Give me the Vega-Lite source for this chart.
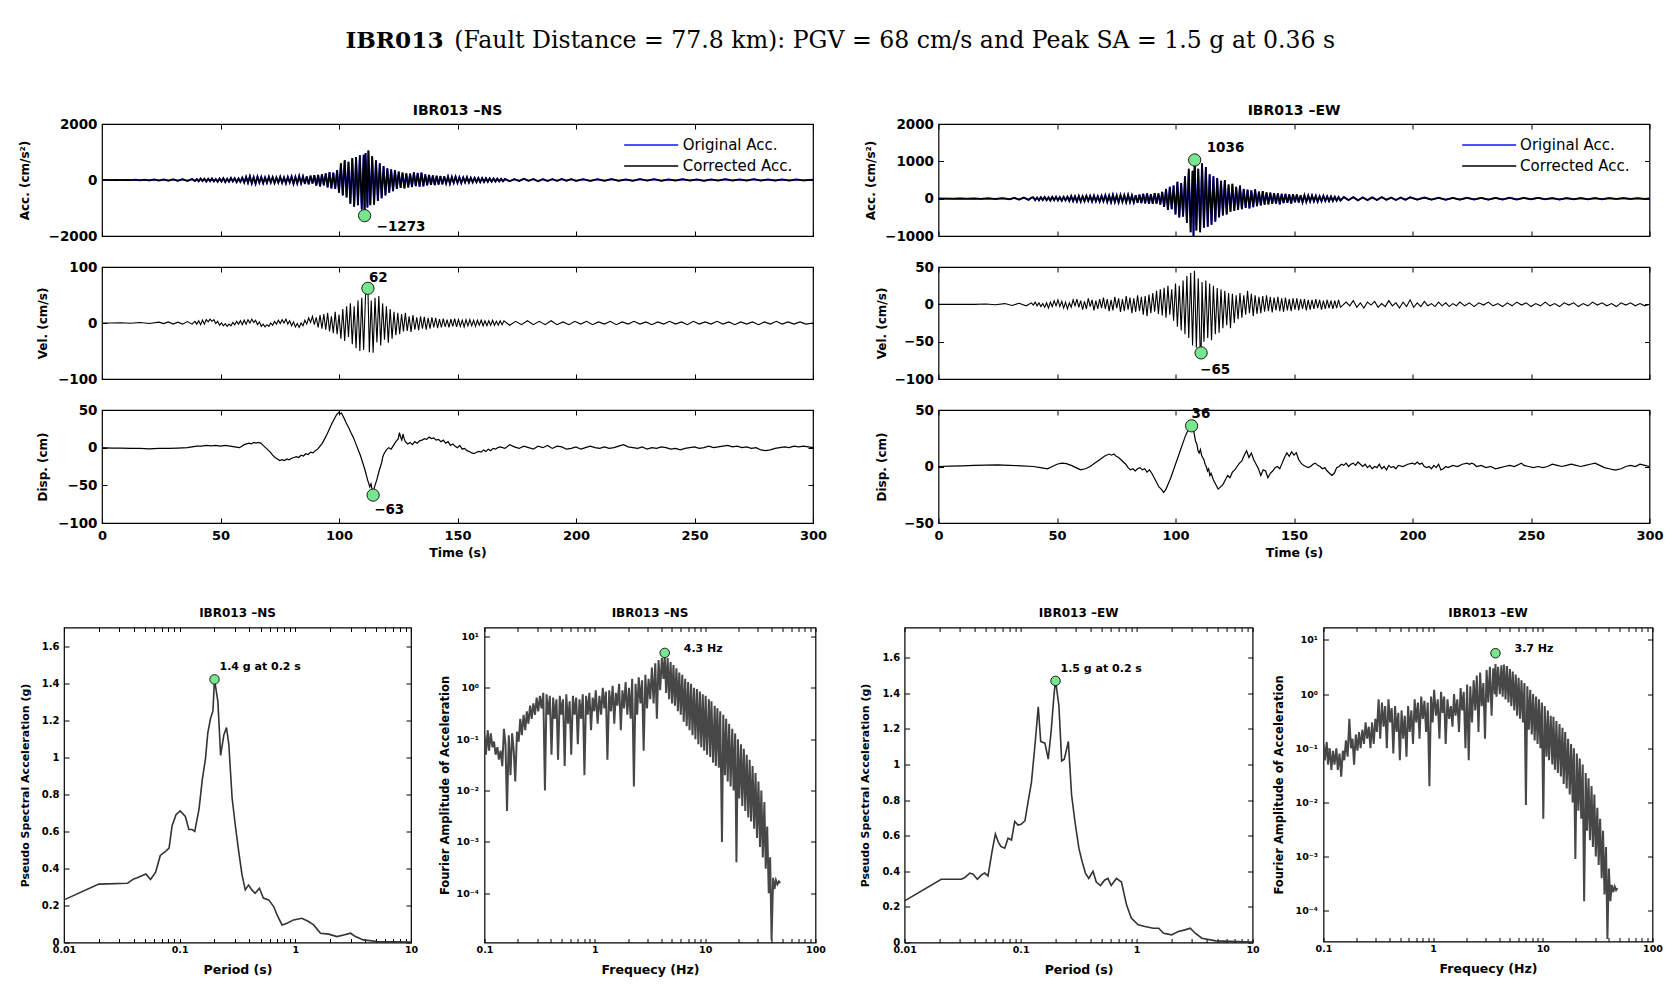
{
"$schema":"https://vega.github.io/schema/vega-lite/v6.json",
"background":"white",
"padding":{"left":17,"top":28,"right":5,"bottom":5},
"title":{"text":"(Fault Distance = 77.8 km): PGV = 68 cm/s and Peak SA = 1.5 g at 0.36 s","anchor":"start","frame":"bounds","dx":436.9,"offset":-23.6,"font":"DejaVu Serif","fontSize":23.6,"fontWeight":"normal","color":"#000"},
"datasets":{
"nsAcc":[{"t":0,"v":0},{"t":2,"v":3},{"t":4,"v":-4},{"t":6,"v":5},{"t":8,"v":-5},{"t":10,"v":6},{"t":12,"v":-6},{"t":14,"v":8},{"t":16,"v":-8},{"t":18,"v":10},{"t":20,"v":-12},{"t":22,"v":15},{"t":24,"v":-15},{"t":26,"v":18},{"t":28,"v":-20},{"t":30,"v":22},{"t":32,"v":-25},{"t":34,"v":25},{"t":36,"v":-28},{"t":38,"v":30},{"t":39.2,"v":-35},{"t":40,"v":30},{"t":40.8,"v":-45},{"t":41.6,"v":50},{"t":42.4,"v":-35},{"t":43.2,"v":40},{"t":44,"v":-55},{"t":44.8,"v":45},{"t":45.6,"v":-40},{"t":46.4,"v":55},{"t":47.2,"v":-50},{"t":48,"v":35},{"t":48.8,"v":-60},{"t":49.6,"v":50},{"t":50.4,"v":-55},{"t":51.2,"v":65},{"t":52,"v":-70},{"t":52.8,"v":45},{"t":53.6,"v":-60},{"t":54.4,"v":70},{"t":55.2,"v":-50},{"t":56,"v":60},{"t":56.8,"v":-75},{"t":57.6,"v":55},{"t":58.4,"v":-65},{"t":59.2,"v":80},{"t":60,"v":-90},{"t":60.8,"v":110},{"t":61.6,"v":-100},{"t":62.4,"v":130},{"t":63.2,"v":-120},{"t":64,"v":100},{"t":64.8,"v":-130},{"t":65.6,"v":120},{"t":66.4,"v":-95},{"t":67.2,"v":105},{"t":68,"v":-115},{"t":68.8,"v":90},{"t":69.6,"v":-100},{"t":70.4,"v":115},{"t":71.2,"v":-90},{"t":72,"v":100},{"t":72.8,"v":-110},{"t":73.6,"v":85},{"t":74.4,"v":-95},{"t":75.2,"v":110},{"t":76,"v":-100},{"t":76.8,"v":90},{"t":77.6,"v":-120},{"t":78.4,"v":105},{"t":79.2,"v":-90},{"t":80,"v":120},{"t":80.8,"v":-135},{"t":81.6,"v":110},{"t":82.4,"v":-125},{"t":83.2,"v":140},{"t":84,"v":-115},{"t":84.8,"v":125},{"t":85.6,"v":-140},{"t":86.4,"v":130},{"t":87.2,"v":-150},{"t":88,"v":150},{"t":88.8,"v":-130},{"t":89.6,"v":170},{"t":90.4,"v":-200},{"t":91.2,"v":180},{"t":92,"v":-230},{"t":92.8,"v":210},{"t":93.6,"v":-190},{"t":94.4,"v":240},{"t":95.2,"v":-260},{"t":96,"v":280},{"t":96.8,"v":-300},{"t":97.6,"v":260},{"t":98.4,"v":-320},{"t":99.2,"v":350},{"t":100,"v":-450},{"t":100.8,"v":600},{"t":101.6,"v":-550},{"t":102.4,"v":700},{"t":103.2,"v":-620},{"t":104,"v":650},{"t":104.8,"v":-850},{"t":105.6,"v":780},{"t":106.4,"v":-950},{"t":107.2,"v":820},{"t":108,"v":-900},{"t":108.8,"v":880},{"t":109.6,"v":-1050},{"t":110.4,"v":900},{"t":110.8,"v":-1273},{"t":111.2,"v":960},{"t":112,"v":-980},{"t":112.4,"v":1050},{"t":113.2,"v":-900},{"t":114,"v":850},{"t":114.8,"v":-880},{"t":115.6,"v":700},{"t":116.4,"v":-750},{"t":117.2,"v":600},{"t":118,"v":-650},{"t":118.8,"v":500},{"t":119.6,"v":-550},{"t":120.4,"v":420},{"t":121.2,"v":-450},{"t":122,"v":380},{"t":122.8,"v":-400},{"t":123.6,"v":350},{"t":124.4,"v":-320},{"t":125.2,"v":300},{"t":126,"v":-280},{"t":126.8,"v":260},{"t":127.6,"v":-300},{"t":128.4,"v":240},{"t":129.2,"v":-260},{"t":130,"v":230},{"t":130.8,"v":-250},{"t":131.6,"v":270},{"t":132.4,"v":-220},{"t":133.2,"v":250},{"t":134,"v":-240},{"t":134.8,"v":260},{"t":135.6,"v":-230},{"t":136.4,"v":200},{"t":137.2,"v":-190},{"t":138,"v":180},{"t":138.8,"v":-170},{"t":139.6,"v":160},{"t":140.4,"v":-180},{"t":141.2,"v":150},{"t":142,"v":-160},{"t":142.8,"v":140},{"t":143.6,"v":-150},{"t":144.4,"v":130},{"t":145.2,"v":-120},{"t":146,"v":120},{"t":146.8,"v":-130},{"t":147.6,"v":110},{"t":148.4,"v":-100},{"t":149.2,"v":115},{"t":150,"v":-105},{"t":150.8,"v":95},{"t":151.6,"v":-110},{"t":152.4,"v":90},{"t":153.2,"v":-85},{"t":154,"v":100},{"t":154.8,"v":-90},{"t":155.6,"v":80},{"t":156.4,"v":-85},{"t":157.2,"v":75},{"t":158,"v":-80},{"t":158.8,"v":70},{"t":159.6,"v":-75},{"t":160.4,"v":65},{"t":161.2,"v":-70},{"t":162,"v":60},{"t":162.8,"v":-65},{"t":163.6,"v":55},{"t":164.4,"v":-60},{"t":165.2,"v":50},{"t":166,"v":-55},{"t":166.8,"v":45},{"t":167.6,"v":-50},{"t":168.4,"v":40},{"t":169.2,"v":-45},{"t":170,"v":35},{"t":172,"v":-40},{"t":174,"v":30},{"t":176,"v":-35},{"t":178,"v":40},{"t":180,"v":-30},{"t":182,"v":35},{"t":184,"v":-40},{"t":186,"v":30},{"t":188,"v":-35},{"t":190,"v":30},{"t":192,"v":-30},{"t":194,"v":35},{"t":196,"v":-25},{"t":198,"v":30},{"t":200,"v":-30},{"t":203,"v":25},{"t":206,"v":-30},{"t":209,"v":25},{"t":212,"v":-25},{"t":215,"v":30},{"t":218,"v":-25},{"t":221,"v":20},{"t":224,"v":-25},{"t":227,"v":30},{"t":230,"v":-20},{"t":233,"v":25},{"t":236,"v":-25},{"t":239,"v":20},{"t":242,"v":-20},{"t":245,"v":25},{"t":248,"v":-20},{"t":251,"v":20},{"t":254,"v":-25},{"t":257,"v":20},{"t":260,"v":-20},{"t":263,"v":25},{"t":266,"v":-20},{"t":269,"v":20},{"t":272,"v":-20},{"t":275,"v":25},{"t":278,"v":-20},{"t":281,"v":20},{"t":284,"v":-15},{"t":287,"v":20},{"t":290,"v":-20},{"t":293,"v":15},{"t":296,"v":-15},{"t":300,"v":10}],
"ewAcc":[{"t":0,"v":0},{"t":3,"v":2},{"t":6,"v":-3},{"t":9,"v":3},{"t":12,"v":-4},{"t":15,"v":5},{"t":18,"v":-6},{"t":21,"v":8},{"t":24,"v":-10},{"t":27,"v":12},{"t":30,"v":-15},{"t":32,"v":20},{"t":34,"v":-25},{"t":36,"v":30},{"t":38,"v":-30},{"t":39.2,"v":25},{"t":40,"v":35},{"t":40.8,"v":-40},{"t":41.6,"v":30},{"t":42.4,"v":-45},{"t":43.2,"v":40},{"t":44,"v":-35},{"t":44.8,"v":45},{"t":45.6,"v":-40},{"t":46.4,"v":35},{"t":47.2,"v":-50},{"t":48,"v":45},{"t":48.8,"v":-40},{"t":49.6,"v":50},{"t":50.4,"v":-45},{"t":51.2,"v":40},{"t":52,"v":-55},{"t":52.8,"v":50},{"t":53.6,"v":-45},{"t":54.4,"v":55},{"t":55.2,"v":-60},{"t":56,"v":70},{"t":56.8,"v":-65},{"t":57.6,"v":60},{"t":58.4,"v":-75},{"t":59.2,"v":70},{"t":60,"v":-80},{"t":60.8,"v":65},{"t":61.6,"v":-70},{"t":62.4,"v":75},{"t":63.2,"v":-60},{"t":64,"v":70},{"t":64.8,"v":-75},{"t":65.6,"v":80},{"t":66.4,"v":-70},{"t":67.2,"v":65},{"t":68,"v":-80},{"t":68.8,"v":75},{"t":69.6,"v":-70},{"t":70.4,"v":90},{"t":71.2,"v":-85},{"t":72,"v":80},{"t":72.8,"v":-95},{"t":73.6,"v":100},{"t":74.4,"v":-90},{"t":75.2,"v":85},{"t":76,"v":-100},{"t":76.8,"v":95},{"t":77.6,"v":-85},{"t":78.4,"v":90},{"t":79.2,"v":-95},{"t":80,"v":100},{"t":80.8,"v":-90},{"t":81.6,"v":85},{"t":82.4,"v":-100},{"t":83.2,"v":95},{"t":84,"v":-110},{"t":84.8,"v":105},{"t":85.6,"v":-120},{"t":86.4,"v":130},{"t":87.2,"v":-125},{"t":88,"v":140},{"t":88.8,"v":-135},{"t":89.6,"v":120},{"t":90.4,"v":-140},{"t":91.2,"v":150},{"t":92,"v":-130},{"t":92.8,"v":140},{"t":93.6,"v":-160},{"t":94.4,"v":180},{"t":95.2,"v":-220},{"t":96,"v":260},{"t":96.8,"v":-300},{"t":97.6,"v":320},{"t":98.4,"v":-280},{"t":99.2,"v":350},{"t":100,"v":-420},{"t":100.8,"v":450},{"t":101.6,"v":-500},{"t":102.4,"v":420},{"t":103.2,"v":-480},{"t":104,"v":600},{"t":104.8,"v":-650},{"t":105.6,"v":800},{"t":106.4,"v":-900},{"t":107.2,"v":750},{"t":107.6,"v":-1000},{"t":108.1,"v":1036},{"t":108.8,"v":-850},{"t":109.6,"v":800},{"t":110.4,"v":-900},{"t":111.2,"v":950},{"t":112,"v":-780},{"t":112.8,"v":850},{"t":113.6,"v":-750},{"t":114.4,"v":650},{"t":115.2,"v":-700},{"t":116,"v":600},{"t":116.8,"v":-620},{"t":117.6,"v":550},{"t":118.4,"v":-500},{"t":119.2,"v":480},{"t":120,"v":-450},{"t":120.8,"v":500},{"t":121.6,"v":-420},{"t":122.4,"v":380},{"t":123.2,"v":-350},{"t":124,"v":400},{"t":124.8,"v":-330},{"t":125.6,"v":320},{"t":126.4,"v":-300},{"t":127.2,"v":350},{"t":128,"v":-280},{"t":128.8,"v":260},{"t":129.6,"v":-250},{"t":130.4,"v":240},{"t":131.2,"v":-260},{"t":132,"v":220},{"t":132.8,"v":-230},{"t":133.6,"v":250},{"t":134.4,"v":-200},{"t":135.2,"v":190},{"t":136,"v":-180},{"t":136.8,"v":200},{"t":137.6,"v":-160},{"t":138.4,"v":170},{"t":139.2,"v":-150},{"t":140,"v":160},{"t":140.8,"v":-140},{"t":141.6,"v":150},{"t":142.4,"v":-130},{"t":143.2,"v":140},{"t":144,"v":-150},{"t":144.8,"v":130},{"t":145.6,"v":-120},{"t":146.4,"v":125},{"t":147.2,"v":-110},{"t":148,"v":115},{"t":148.8,"v":-130},{"t":149.6,"v":120},{"t":150.4,"v":-100},{"t":151.2,"v":110},{"t":152,"v":-105},{"t":152.8,"v":95},{"t":153.6,"v":-100},{"t":154.4,"v":90},{"t":155.2,"v":-85},{"t":156,"v":80},{"t":156.8,"v":-75},{"t":157.6,"v":85},{"t":158.4,"v":-70},{"t":159.2,"v":75},{"t":160,"v":-80},{"t":160.8,"v":65},{"t":161.6,"v":-70},{"t":162.4,"v":75},{"t":163.2,"v":-60},{"t":164,"v":60},{"t":164.8,"v":-65},{"t":165.6,"v":55},{"t":166.4,"v":-60},{"t":167.2,"v":50},{"t":168,"v":-55},{"t":168.8,"v":45},{"t":169.6,"v":-50},{"t":171,"v":45},{"t":173,"v":-40},{"t":175,"v":40},{"t":177,"v":-45},{"t":179,"v":35},{"t":181,"v":-40},{"t":183,"v":35},{"t":185,"v":-35},{"t":187,"v":40},{"t":189,"v":-30},{"t":191,"v":30},{"t":193,"v":-35},{"t":195,"v":30},{"t":197,"v":-30},{"t":199,"v":35},{"t":202,"v":-25},{"t":205,"v":30},{"t":208,"v":-25},{"t":211,"v":25},{"t":214,"v":-30},{"t":217,"v":20},{"t":220,"v":-25},{"t":223,"v":25},{"t":226,"v":-20},{"t":229,"v":20},{"t":232,"v":-25},{"t":235,"v":20},{"t":238,"v":-20},{"t":241,"v":25},{"t":244,"v":-20},{"t":247,"v":20},{"t":250,"v":-15},{"t":253,"v":20},{"t":256,"v":-15},{"t":259,"v":15},{"t":262,"v":-20},{"t":265,"v":15},{"t":268,"v":-15},{"t":271,"v":15},{"t":274,"v":-15},{"t":277,"v":15},{"t":280,"v":-15},{"t":283,"v":15},{"t":286,"v":-10},{"t":289,"v":15},{"t":292,"v":-10},{"t":295,"v":10},{"t":298,"v":-10},{"t":300,"v":5}],
"nsVel":[{"t":0,"v":0},{"t":4,"v":0},{"t":8,"v":0.5},{"t":12,"v":-0.5},{"t":16,"v":1},{"t":20,"v":-1},{"t":24,"v":1.5},{"t":26,"v":-1},{"t":28,"v":2},{"t":30,"v":-2},{"t":32,"v":1.5},{"t":34,"v":-2},{"t":36,"v":2.5},{"t":38,"v":-2},{"t":39.2,"v":3},{"t":40,"v":-2},{"t":40.8,"v":4},{"t":41.6,"v":-3},{"t":42.4,"v":5},{"t":43.2,"v":-2},{"t":44,"v":6},{"t":44.8,"v":2},{"t":45.6,"v":7},{"t":46.4,"v":3},{"t":47.2,"v":6},{"t":48,"v":-1},{"t":48.8,"v":3},{"t":49.6,"v":-4},{"t":50.4,"v":0},{"t":51.2,"v":-5},{"t":52,"v":-1},{"t":52.8,"v":-6},{"t":53.6,"v":-2},{"t":54.4,"v":-5},{"t":55.2,"v":1},{"t":56,"v":-3},{"t":56.8,"v":3},{"t":57.6,"v":-2},{"t":58.4,"v":4},{"t":59.2,"v":-3},{"t":60,"v":5},{"t":60.8,"v":-2},{"t":61.6,"v":6},{"t":62.4,"v":0},{"t":63.2,"v":7},{"t":64,"v":1},{"t":64.8,"v":5},{"t":65.6,"v":-3},{"t":66.4,"v":2},{"t":67.2,"v":-6},{"t":68,"v":-2},{"t":68.8,"v":-7},{"t":69.6,"v":-3},{"t":70.4,"v":-6},{"t":71.2,"v":0},{"t":72,"v":-4},{"t":72.8,"v":3},{"t":73.6,"v":-2},{"t":74.4,"v":5},{"t":75.2,"v":-1},{"t":76,"v":6},{"t":76.8,"v":0},{"t":77.6,"v":7},{"t":78.4,"v":-2},{"t":79.2,"v":4},{"t":80,"v":-5},{"t":80.8,"v":2},{"t":81.6,"v":-7},{"t":82.4,"v":-1},{"t":83.2,"v":-8},{"t":84,"v":0},{"t":84.8,"v":-5},{"t":85.6,"v":5},{"t":86.4,"v":-2},{"t":87.2,"v":9},{"t":88,"v":1},{"t":88.8,"v":12},{"t":89.6,"v":-3},{"t":90.4,"v":10},{"t":91.2,"v":-8},{"t":92,"v":14},{"t":92.8,"v":-10},{"t":93.6,"v":16},{"t":94.4,"v":-12},{"t":95.2,"v":18},{"t":96,"v":-15},{"t":96.8,"v":12},{"t":97.6,"v":-18},{"t":98.4,"v":20},{"t":99.2,"v":-20},{"t":100,"v":15},{"t":100.8,"v":-28},{"t":101.6,"v":25},{"t":102.4,"v":-32},{"t":103.2,"v":30},{"t":104,"v":-25},{"t":104.8,"v":35},{"t":105.6,"v":-38},{"t":106.4,"v":30},{"t":107.2,"v":-45},{"t":108,"v":40},{"t":108.8,"v":-50},{"t":109.6,"v":45},{"t":110.4,"v":-48},{"t":111.2,"v":50},{"t":112.2,"v":62},{"t":112.8,"v":-52},{"t":113.6,"v":40},{"t":114.4,"v":-53},{"t":115.2,"v":45},{"t":116,"v":-35},{"t":116.8,"v":48},{"t":117.6,"v":-40},{"t":118.4,"v":35},{"t":119.2,"v":-30},{"t":120,"v":30},{"t":120.8,"v":-35},{"t":121.6,"v":25},{"t":122.4,"v":-28},{"t":123.2,"v":20},{"t":124,"v":-22},{"t":124.8,"v":18},{"t":125.6,"v":-20},{"t":126.4,"v":16},{"t":127.2,"v":-15},{"t":128,"v":18},{"t":128.8,"v":-14},{"t":129.6,"v":12},{"t":130.4,"v":-16},{"t":131.2,"v":14},{"t":132,"v":-12},{"t":132.8,"v":10},{"t":133.6,"v":-13},{"t":134.4,"v":12},{"t":135.2,"v":-10},{"t":136,"v":11},{"t":136.8,"v":-12},{"t":137.6,"v":9},{"t":138.4,"v":-10},{"t":139.2,"v":10},{"t":140,"v":-8},{"t":140.8,"v":9},{"t":141.6,"v":-9},{"t":142.4,"v":7},{"t":143.2,"v":-8},{"t":144,"v":8},{"t":144.8,"v":-7},{"t":145.6,"v":6},{"t":146.4,"v":-8},{"t":147.2,"v":7},{"t":148,"v":-6},{"t":148.8,"v":8},{"t":149.6,"v":-7},{"t":150.4,"v":6},{"t":151.2,"v":-6},{"t":152,"v":5},{"t":152.8,"v":-7},{"t":153.6,"v":6},{"t":154.4,"v":-5},{"t":155.2,"v":6},{"t":156,"v":-5},{"t":156.8,"v":5},{"t":157.6,"v":-6},{"t":158.4,"v":5},{"t":159.2,"v":-4},{"t":160,"v":5},{"t":160.8,"v":-5},{"t":161.6,"v":4},{"t":162.4,"v":-5},{"t":163.2,"v":4},{"t":164,"v":-4},{"t":164.8,"v":5},{"t":165.6,"v":-4},{"t":166.4,"v":3},{"t":167.2,"v":-4},{"t":168,"v":4},{"t":168.8,"v":-3},{"t":169.6,"v":4},{"t":172,"v":-4},{"t":174.5,"v":3},{"t":177,"v":-3},{"t":179.5,"v":4},{"t":182,"v":-3},{"t":184.5,"v":3},{"t":187,"v":-3},{"t":189.5,"v":4},{"t":192,"v":-3},{"t":194.5,"v":2},{"t":197,"v":-3},{"t":199.5,"v":3},{"t":202,"v":-2},{"t":204.5,"v":3},{"t":207,"v":-3},{"t":209.5,"v":2},{"t":212,"v":-2},{"t":214.5,"v":3},{"t":217,"v":-3},{"t":219.5,"v":2},{"t":222,"v":-2},{"t":224.5,"v":3},{"t":227,"v":-2},{"t":229.5,"v":2},{"t":232,"v":-3},{"t":234.5,"v":2},{"t":237,"v":-2},{"t":239.5,"v":3},{"t":242,"v":-2},{"t":244.5,"v":2},{"t":247,"v":-3},{"t":249.5,"v":3},{"t":252,"v":-2},{"t":254.5,"v":2},{"t":257,"v":-2},{"t":259.5,"v":3},{"t":262,"v":-2},{"t":264.5,"v":2},{"t":267,"v":-3},{"t":269.5,"v":2},{"t":272,"v":-2},{"t":274.5,"v":2},{"t":277,"v":-3},{"t":279.5,"v":2},{"t":282,"v":-2},{"t":284.5,"v":3},{"t":287,"v":-2},{"t":289.5,"v":2},{"t":292,"v":-2},{"t":294.5,"v":2},{"t":297,"v":-2},{"t":300,"v":0}],
"ewVel":[{"t":0,"v":0},{"t":5,"v":0},{"t":10,"v":0},{"t":15,"v":0},{"t":20,"v":0.5},{"t":24,"v":-0.5},{"t":28,"v":1},{"t":31,"v":-1.5},{"t":34,"v":1.5},{"t":37,"v":-2},{"t":39.2,"v":2},{"t":40,"v":-1},{"t":40.8,"v":3},{"t":41.6,"v":-2},{"t":42.4,"v":2},{"t":43.2,"v":-3},{"t":44,"v":1},{"t":44.8,"v":-4},{"t":45.6,"v":2},{"t":46.4,"v":-5},{"t":47.2,"v":3},{"t":48,"v":-3},{"t":48.8,"v":5},{"t":49.6,"v":-2},{"t":50.4,"v":6},{"t":51.2,"v":-3},{"t":52,"v":4},{"t":52.8,"v":-5},{"t":53.6,"v":3},{"t":54.4,"v":-6},{"t":55.2,"v":2},{"t":56,"v":-4},{"t":56.8,"v":6},{"t":57.6,"v":-2},{"t":58.4,"v":7},{"t":59.2,"v":-4},{"t":60,"v":5},{"t":60.8,"v":-7},{"t":61.6,"v":4},{"t":62.4,"v":-6},{"t":63.2,"v":8},{"t":64,"v":-3},{"t":64.8,"v":6},{"t":65.6,"v":-8},{"t":66.4,"v":5},{"t":67.2,"v":-6},{"t":68,"v":7},{"t":68.8,"v":-5},{"t":69.6,"v":9},{"t":70.4,"v":-6},{"t":71.2,"v":7},{"t":72,"v":-9},{"t":72.8,"v":6},{"t":73.6,"v":-8},{"t":74.4,"v":10},{"t":75.2,"v":-5},{"t":76,"v":8},{"t":76.8,"v":-10},{"t":77.6,"v":7},{"t":78.4,"v":-9},{"t":79.2,"v":11},{"t":80,"v":-7},{"t":80.8,"v":9},{"t":81.6,"v":-12},{"t":82.4,"v":8},{"t":83.2,"v":-10},{"t":84,"v":12},{"t":84.8,"v":-9},{"t":85.6,"v":10},{"t":86.4,"v":-14},{"t":87.2,"v":11},{"t":88,"v":-16},{"t":88.8,"v":13},{"t":89.6,"v":-12},{"t":90.4,"v":15},{"t":91.2,"v":-10},{"t":92,"v":18},{"t":92.8,"v":-13},{"t":93.6,"v":20},{"t":94.4,"v":-15},{"t":95.2,"v":22},{"t":96,"v":-18},{"t":96.8,"v":25},{"t":97.6,"v":-14},{"t":98.4,"v":20},{"t":99.2,"v":-22},{"t":100,"v":28},{"t":100.8,"v":-30},{"t":101.6,"v":25},{"t":102.4,"v":-35},{"t":103.2,"v":32},{"t":104,"v":-40},{"t":104.8,"v":38},{"t":105.6,"v":-45},{"t":106.4,"v":42},{"t":107.2,"v":-55},{"t":108,"v":45},{"t":108.8,"v":-58},{"t":109.6,"v":35},{"t":110.4,"v":-60},{"t":110.8,"v":-65},{"t":111.2,"v":30},{"t":112,"v":-50},{"t":112.8,"v":32},{"t":113.6,"v":-45},{"t":114.4,"v":28},{"t":115.2,"v":-48},{"t":116,"v":25},{"t":116.8,"v":-40},{"t":117.6,"v":22},{"t":118.4,"v":-38},{"t":119.2,"v":20},{"t":120,"v":-32},{"t":120.8,"v":18},{"t":121.6,"v":-28},{"t":122.4,"v":15},{"t":123.2,"v":-32},{"t":124,"v":14},{"t":124.8,"v":-25},{"t":125.6,"v":12},{"t":126.4,"v":-20},{"t":127.2,"v":15},{"t":128,"v":-18},{"t":128.8,"v":12},{"t":129.6,"v":-14},{"t":130.4,"v":18},{"t":131.2,"v":-12},{"t":132,"v":14},{"t":132.8,"v":-16},{"t":133.6,"v":12},{"t":134.4,"v":-13},{"t":135.2,"v":10},{"t":136,"v":-12},{"t":136.8,"v":11},{"t":137.6,"v":-10},{"t":138.4,"v":12},{"t":139.2,"v":-9},{"t":140,"v":10},{"t":140.8,"v":-11},{"t":141.6,"v":9},{"t":142.4,"v":-8},{"t":143.2,"v":10},{"t":144,"v":-9},{"t":144.8,"v":8},{"t":145.6,"v":-10},{"t":146.4,"v":9},{"t":147.2,"v":-8},{"t":148,"v":7},{"t":148.8,"v":-9},{"t":149.6,"v":8},{"t":150.4,"v":-7},{"t":151.2,"v":8},{"t":152,"v":-8},{"t":152.8,"v":7},{"t":153.6,"v":-6},{"t":154.4,"v":7},{"t":155.2,"v":-8},{"t":156,"v":6},{"t":156.8,"v":-7},{"t":157.6,"v":6},{"t":158.4,"v":-6},{"t":159.2,"v":7},{"t":160,"v":-5},{"t":160.8,"v":6},{"t":161.6,"v":-7},{"t":162.4,"v":5},{"t":163.2,"v":-6},{"t":164,"v":6},{"t":164.8,"v":-5},{"t":165.6,"v":5},{"t":166.4,"v":-6},{"t":167.2,"v":5},{"t":168,"v":-5},{"t":168.8,"v":6},{"t":169.6,"v":-4},{"t":172,"v":3},{"t":173.5,"v":-2},{"t":175,"v":5},{"t":176.5,"v":-4},{"t":178,"v":2},{"t":179.5,"v":-5},{"t":181,"v":3},{"t":182.5,"v":-1},{"t":184,"v":4},{"t":185.5,"v":-4},{"t":187,"v":1},{"t":188.5,"v":-3},{"t":190,"v":5},{"t":191.5,"v":-2},{"t":193,"v":2},{"t":194.5,"v":-5},{"t":196,"v":3},{"t":197.5,"v":-3},{"t":199,"v":6},{"t":200.5,"v":-4},{"t":202,"v":2},{"t":203.5,"v":-3},{"t":205,"v":4},{"t":206.5,"v":-2},{"t":208,"v":1},{"t":209.5,"v":-3},{"t":211,"v":3},{"t":212.5,"v":-2},{"t":214,"v":2},{"t":215.5,"v":-3},{"t":217,"v":1},{"t":218.5,"v":-2},{"t":220,"v":3},{"t":222,"v":-2},{"t":224,"v":2},{"t":226,"v":-3},{"t":228,"v":2},{"t":230,"v":-1},{"t":232,"v":3},{"t":234,"v":-2},{"t":236,"v":1},{"t":238,"v":-3},{"t":240,"v":2},{"t":242,"v":-2},{"t":244,"v":3},{"t":246,"v":-1},{"t":248,"v":2},{"t":250,"v":-3},{"t":252,"v":1},{"t":254,"v":-2},{"t":256,"v":3},{"t":258,"v":-2},{"t":260,"v":1},{"t":262,"v":-3},{"t":264,"v":2},{"t":266,"v":-1},{"t":268,"v":2},{"t":270,"v":-3},{"t":272,"v":1},{"t":274,"v":-2},{"t":276,"v":3},{"t":278,"v":-1},{"t":280,"v":2},{"t":282,"v":-2},{"t":284,"v":1},{"t":286,"v":-3},{"t":288,"v":2},{"t":290,"v":-1},{"t":292,"v":2},{"t":294,"v":-2},{"t":296,"v":1},{"t":298,"v":-2},{"t":300,"v":0}],
"nsDisp":[{"t":0,"v":0},{"t":4,"v":-0.5},{"t":8,"v":-0.5},{"t":12,"v":-1},{"t":16,"v":-1},{"t":20,"v":-1.5},{"t":24,"v":-1},{"t":28,"v":-1},{"t":32,"v":-0.5},{"t":36,"v":0},{"t":38,"v":1},{"t":40,"v":2},{"t":42,"v":2},{"t":44,"v":3},{"t":46,"v":2.5},{"t":48,"v":3},{"t":50,"v":2},{"t":52,"v":3},{"t":54,"v":2},{"t":56,"v":1},{"t":58,"v":0},{"t":59,"v":2},{"t":60,"v":4},{"t":61,"v":5},{"t":62,"v":6},{"t":63,"v":5},{"t":64,"v":7},{"t":65,"v":6},{"t":66,"v":7},{"t":67,"v":6},{"t":68,"v":3},{"t":69,"v":0},{"t":70,"v":-3},{"t":71,"v":-6},{"t":72,"v":-10},{"t":73,"v":-13},{"t":74,"v":-15},{"t":75,"v":-17},{"t":76,"v":-16},{"t":77,"v":-17},{"t":78,"v":-15},{"t":79,"v":-16},{"t":80,"v":-14},{"t":81,"v":-13},{"t":82,"v":-12},{"t":83,"v":-13},{"t":84,"v":-10},{"t":85,"v":-11},{"t":86,"v":-8},{"t":87,"v":-9},{"t":88,"v":-6},{"t":89,"v":-7},{"t":90,"v":-4},{"t":91,"v":-2},{"t":92,"v":2},{"t":93,"v":6},{"t":94,"v":12},{"t":95,"v":18},{"t":96,"v":25},{"t":97,"v":32},{"t":98,"v":38},{"t":99,"v":44},{"t":100,"v":47},{"t":100.5,"v":45},{"t":101,"v":46},{"t":102,"v":40},{"t":103,"v":33},{"t":104,"v":27},{"t":105,"v":20},{"t":106,"v":14},{"t":107,"v":6},{"t":108,"v":-2},{"t":109,"v":-10},{"t":110,"v":-20},{"t":111,"v":-30},{"t":112,"v":-42},{"t":113,"v":-52},{"t":113.5,"v":-48},{"t":114,"v":-56},{"t":114.4,"v":-60},{"t":115,"v":-52},{"t":116,"v":-42},{"t":117,"v":-30},{"t":118,"v":-20},{"t":118.5,"v":-12},{"t":119,"v":-8},{"t":120,"v":-3},{"t":121,"v":0},{"t":122,"v":-2},{"t":123,"v":3},{"t":124,"v":8},{"t":125,"v":12},{"t":125.5,"v":20},{"t":126,"v":14},{"t":126.5,"v":10},{"t":127,"v":18},{"t":127.5,"v":12},{"t":128,"v":8},{"t":129,"v":5},{"t":130,"v":7},{"t":131,"v":4},{"t":132,"v":8},{"t":133,"v":6},{"t":134,"v":9},{"t":135,"v":10},{"t":136,"v":12},{"t":137,"v":11},{"t":138,"v":14},{"t":139,"v":12},{"t":140,"v":13},{"t":141,"v":10},{"t":142,"v":11},{"t":143,"v":8},{"t":144,"v":10},{"t":145,"v":6},{"t":146,"v":8},{"t":147,"v":3},{"t":148,"v":5},{"t":149,"v":2},{"t":150,"v":0},{"t":151,"v":3},{"t":152,"v":-2},{"t":153,"v":-1},{"t":154,"v":-4},{"t":155,"v":-5},{"t":156,"v":-7},{"t":157,"v":-8},{"t":158,"v":-6},{"t":159,"v":-5},{"t":160,"v":-6},{"t":161,"v":-3},{"t":162,"v":-5},{"t":163,"v":-2},{"t":164,"v":-4},{"t":165,"v":-1},{"t":166,"v":-2},{"t":167,"v":0},{"t":168,"v":1},{"t":170,"v":-1},{"t":172,"v":4},{"t":174,"v":1},{"t":176,"v":-1},{"t":178,"v":2},{"t":180,"v":0},{"t":182,"v":-2},{"t":184,"v":2},{"t":186,"v":0},{"t":188,"v":3},{"t":190,"v":-1},{"t":192,"v":2},{"t":194,"v":1},{"t":196,"v":-2},{"t":198,"v":-1},{"t":200,"v":1},{"t":202,"v":-2},{"t":204,"v":0},{"t":206,"v":2},{"t":208,"v":0},{"t":210,"v":-1},{"t":212,"v":1},{"t":214,"v":-1},{"t":216,"v":0},{"t":218,"v":2},{"t":220,"v":4},{"t":222,"v":1},{"t":224,"v":0},{"t":226,"v":-1},{"t":228,"v":1},{"t":230,"v":-2},{"t":232,"v":0},{"t":234,"v":-1},{"t":236,"v":1},{"t":238,"v":0},{"t":240,"v":-2},{"t":242,"v":-1},{"t":244,"v":-3},{"t":246,"v":-1},{"t":248,"v":0},{"t":250,"v":1},{"t":252,"v":-1},{"t":254,"v":0},{"t":256,"v":2},{"t":258,"v":0},{"t":260,"v":1},{"t":262,"v":2},{"t":264,"v":3},{"t":266,"v":1},{"t":268,"v":2},{"t":270,"v":0},{"t":272,"v":1},{"t":274,"v":-1},{"t":276,"v":0},{"t":278,"v":-3},{"t":280,"v":-4},{"t":282,"v":-3},{"t":284,"v":-1},{"t":286,"v":0},{"t":288,"v":1},{"t":290,"v":0},{"t":292,"v":2},{"t":294,"v":1},{"t":296,"v":2},{"t":298,"v":1},{"t":300,"v":0}],
"ewDisp":[{"t":0,"v":0},{"t":5,"v":0.3},{"t":10,"v":0.6},{"t":15,"v":1},{"t":20,"v":1.3},{"t":25,"v":1.5},{"t":30,"v":1},{"t":35,"v":0.5},{"t":40,"v":0},{"t":43,"v":-1},{"t":46,"v":-2},{"t":48,"v":0},{"t":50,"v":2},{"t":52,"v":3},{"t":54,"v":2.5},{"t":56,"v":1},{"t":58,"v":-1},{"t":60,"v":-3},{"t":62,"v":-2},{"t":64,"v":0},{"t":66,"v":3},{"t":68,"v":6},{"t":70,"v":9},{"t":72,"v":11},{"t":73,"v":10},{"t":74,"v":11},{"t":75,"v":9},{"t":76,"v":8},{"t":77,"v":6},{"t":78,"v":4},{"t":79,"v":2},{"t":80,"v":-1},{"t":81,"v":-3},{"t":82,"v":-2},{"t":83,"v":-4},{"t":84,"v":-2},{"t":85,"v":-1},{"t":86,"v":-3},{"t":87,"v":-2},{"t":88,"v":-5},{"t":89,"v":-3},{"t":90,"v":-6},{"t":91,"v":-10},{"t":92,"v":-14},{"t":93,"v":-18},{"t":94,"v":-20},{"t":95,"v":-23},{"t":96,"v":-20},{"t":97,"v":-15},{"t":98,"v":-10},{"t":99,"v":-4},{"t":100,"v":2},{"t":101,"v":8},{"t":102,"v":14},{"t":103,"v":20},{"t":104,"v":26},{"t":105,"v":31},{"t":106,"v":34},{"t":106.8,"v":36},{"t":107.5,"v":33},{"t":108,"v":28},{"t":108.5,"v":22},{"t":109,"v":20},{"t":109.5,"v":14},{"t":110,"v":12},{"t":110.5,"v":15},{"t":111,"v":10},{"t":112,"v":6},{"t":112.5,"v":2},{"t":113,"v":0},{"t":113.5,"v":-4},{"t":114,"v":-2},{"t":114.5,"v":-8},{"t":115,"v":-6},{"t":116,"v":-12},{"t":117,"v":-16},{"t":118,"v":-20},{"t":119,"v":-18},{"t":120,"v":-16},{"t":121,"v":-12},{"t":122,"v":-8},{"t":123,"v":-10},{"t":124,"v":-5},{"t":125,"v":-3},{"t":126,"v":0},{"t":127,"v":3},{"t":128,"v":5},{"t":129,"v":10},{"t":130,"v":14},{"t":131,"v":8},{"t":132,"v":12},{"t":133,"v":6},{"t":134,"v":2},{"t":135,"v":-2},{"t":136,"v":-8},{"t":137,"v":-3},{"t":138,"v":-4},{"t":139,"v":-10},{"t":140,"v":-6},{"t":141,"v":-4},{"t":142,"v":-1},{"t":143,"v":0},{"t":144,"v":-2},{"t":145,"v":3},{"t":146,"v":8},{"t":147,"v":12},{"t":148,"v":9},{"t":149,"v":13},{"t":150,"v":10},{"t":151,"v":12},{"t":152,"v":6},{"t":153,"v":3},{"t":154,"v":1},{"t":155,"v":0},{"t":156,"v":-1},{"t":157,"v":0},{"t":158,"v":2},{"t":159,"v":3},{"t":160,"v":1},{"t":161,"v":0},{"t":162,"v":-2},{"t":163,"v":-1},{"t":164,"v":-4},{"t":165,"v":-6},{"t":166,"v":-8},{"t":167,"v":-6},{"t":168,"v":-1},{"t":169,"v":0},{"t":170,"v":2},{"t":171,"v":1},{"t":172,"v":3},{"t":173,"v":0},{"t":174,"v":2},{"t":175,"v":3},{"t":176,"v":1},{"t":177,"v":4},{"t":178,"v":2},{"t":179,"v":0},{"t":180,"v":2},{"t":181,"v":-1},{"t":182,"v":1},{"t":183,"v":-2},{"t":184,"v":0},{"t":185,"v":-1},{"t":186,"v":2},{"t":187,"v":-2},{"t":188,"v":0},{"t":189,"v":-3},{"t":190,"v":1},{"t":191,"v":-1},{"t":192,"v":0},{"t":193,"v":-2},{"t":194,"v":1},{"t":196,"v":0},{"t":198,"v":2},{"t":200,"v":3},{"t":201,"v":2},{"t":202,"v":4},{"t":203,"v":2},{"t":204,"v":3},{"t":205,"v":0},{"t":206,"v":-1},{"t":207,"v":0},{"t":208,"v":-2},{"t":209,"v":1},{"t":210,"v":-1},{"t":211,"v":2},{"t":212,"v":-3},{"t":213,"v":-2},{"t":214,"v":0},{"t":215,"v":-1},{"t":217,"v":1},{"t":219,"v":0},{"t":221,"v":2},{"t":223,"v":3},{"t":224,"v":2},{"t":225,"v":3},{"t":226,"v":2},{"t":227,"v":0},{"t":229,"v":1},{"t":231,"v":-1},{"t":233,"v":0},{"t":235,"v":-2},{"t":237,"v":-1},{"t":239,"v":0},{"t":241,"v":1},{"t":243,"v":0},{"t":245,"v":2},{"t":246,"v":3},{"t":247,"v":1},{"t":249,"v":0},{"t":251,"v":-1},{"t":253,"v":0},{"t":255,"v":-1},{"t":257,"v":0},{"t":259,"v":2},{"t":261,"v":1},{"t":263,"v":0},{"t":265,"v":1},{"t":267,"v":2},{"t":269,"v":1},{"t":271,"v":0},{"t":273,"v":1},{"t":275,"v":2},{"t":277,"v":3},{"t":279,"v":1},{"t":281,"v":-1},{"t":283,"v":-2},{"t":285,"v":-3},{"t":286,"v":-3},{"t":288,"v":-2},{"t":290,"v":0},{"t":292,"v":1},{"t":294,"v":0},{"t":296,"v":2},{"t":298,"v":1},{"t":300,"v":0}],
"nsSA":[{"x":0.01,"y":0.23},{"x":0.02,"y":0.315},{"x":0.0355,"y":0.32},{"x":0.04,"y":0.343},{"x":0.043,"y":0.35},{"x":0.051,"y":0.37},{"x":0.056,"y":0.34},{"x":0.062,"y":0.38},{"x":0.068,"y":0.47},{"x":0.075,"y":0.49},{"x":0.081,"y":0.51},{"x":0.086,"y":0.63},{"x":0.093,"y":0.69},{"x":0.101,"y":0.71},{"x":0.112,"y":0.68},{"x":0.12,"y":0.61},{"x":0.128,"y":0.61},{"x":0.135,"y":0.6},{"x":0.147,"y":0.72},{"x":0.157,"y":0.88},{"x":0.167,"y":0.99},{"x":0.175,"y":1.13},{"x":0.185,"y":1.21},{"x":0.194,"y":1.25},{"x":0.2,"y":1.42},{"x":0.214,"y":1.3},{"x":0.226,"y":1.01},{"x":0.241,"y":1.12},{"x":0.254,"y":1.16},{"x":0.266,"y":1.07},{"x":0.284,"y":0.78},{"x":0.303,"y":0.63},{"x":0.324,"y":0.49},{"x":0.346,"y":0.365},{"x":0.369,"y":0.284},{"x":0.394,"y":0.31},{"x":0.421,"y":0.284},{"x":0.449,"y":0.266},{"x":0.489,"y":0.293},{"x":0.529,"y":0.24},{"x":0.588,"y":0.23},{"x":0.65,"y":0.194},{"x":0.695,"y":0.149},{"x":0.768,"y":0.095},{"x":0.847,"y":0.104},{"x":0.966,"y":0.122},{"x":1.14,"y":0.131},{"x":1.3,"y":0.113},{"x":1.44,"y":0.095},{"x":1.65,"y":0.05},{"x":1.94,"y":0.045},{"x":2.29,"y":0.032},{"x":2.62,"y":0.041},{"x":3,"y":0.05},{"x":3.31,"y":0.032},{"x":3.87,"y":0.014},{"x":5.1,"y":0.005},{"x":10,"y":0.002}],
"ewSA":[{"x":0.01,"y":0.234},{"x":0.0207,"y":0.355},{"x":0.0309,"y":0.355},{"x":0.033,"y":0.365},{"x":0.0365,"y":0.39},{"x":0.039,"y":0.384},{"x":0.0424,"y":0.355},{"x":0.046,"y":0.38},{"x":0.049,"y":0.39},{"x":0.0524,"y":0.374},{"x":0.0567,"y":0.51},{"x":0.0606,"y":0.61},{"x":0.064,"y":0.567},{"x":0.0675,"y":0.54},{"x":0.073,"y":0.53},{"x":0.078,"y":0.586},{"x":0.0835,"y":0.576},{"x":0.089,"y":0.68},{"x":0.095,"y":0.66},{"x":0.101,"y":0.664},{"x":0.109,"y":0.683},{"x":0.116,"y":0.79},{"x":0.124,"y":0.9},{"x":0.133,"y":1.11},{"x":0.142,"y":1.325},{"x":0.149,"y":1.13},{"x":0.162,"y":1.12},{"x":0.173,"y":1.03},{"x":0.183,"y":1.18},{"x":0.194,"y":1.39},{"x":0.2,"y":1.475},{"x":0.214,"y":1.33},{"x":0.226,"y":1.02},{"x":0.238,"y":1.03},{"x":0.25,"y":1.09},{"x":0.258,"y":1.13},{"x":0.275,"y":0.83},{"x":0.294,"y":0.68},{"x":0.318,"y":0.53},{"x":0.339,"y":0.455},{"x":0.362,"y":0.39},{"x":0.387,"y":0.36},{"x":0.421,"y":0.4},{"x":0.449,"y":0.34},{"x":0.489,"y":0.32},{"x":0.529,"y":0.35},{"x":0.566,"y":0.36},{"x":0.604,"y":0.32},{"x":0.67,"y":0.36},{"x":0.74,"y":0.34},{"x":0.82,"y":0.21},{"x":0.9,"y":0.137},{"x":1.03,"y":0.1},{"x":1.18,"y":0.09},{"x":1.39,"y":0.08},{"x":1.55,"y":0.08},{"x":1.71,"y":0.052},{"x":2,"y":0.043},{"x":2.29,"y":0.062},{"x":2.62,"y":0.071},{"x":2.9,"y":0.08},{"x":3.2,"y":0.052},{"x":3.65,"y":0.024},{"x":4.8,"y":0.009},{"x":10,"y":0.002}],
"nsFAS":[{"x":0.1,"y":0.12},{"x":0.103,"y":0.05},{"x":0.107,"y":0.15},{"x":0.11,"y":0.06},{"x":0.114,"y":0.13},{"x":0.118,"y":0.07},{"x":0.122,"y":0.09},{"x":0.126,"y":0.05},{"x":0.131,"y":0.07},{"x":0.135,"y":0.04},{"x":0.14,"y":0.06},{"x":0.145,"y":0.03},{"x":0.15,"y":0.16},{"x":0.155,"y":0.08},{"x":0.16,"y":0.004},{"x":0.166,"y":0.12},{"x":0.172,"y":0.02},{"x":0.178,"y":0.13},{"x":0.184,"y":0.06},{"x":0.19,"y":0.015},{"x":0.197,"y":0.14},{"x":0.204,"y":0.09},{"x":0.211,"y":0.25},{"x":0.218,"y":0.12},{"x":0.226,"y":0.3},{"x":0.234,"y":0.15},{"x":0.242,"y":0.35},{"x":0.25,"y":0.2},{"x":0.259,"y":0.45},{"x":0.268,"y":0.25},{"x":0.277,"y":0.5},{"x":0.287,"y":0.3},{"x":0.297,"y":0.65},{"x":0.307,"y":0.35},{"x":0.318,"y":0.7},{"x":0.329,"y":0.4},{"x":0.341,"y":0.8},{"x":0.353,"y":0.01},{"x":0.365,"y":0.75},{"x":0.378,"y":0.3},{"x":0.391,"y":0.7},{"x":0.405,"y":0.05},{"x":0.419,"y":0.65},{"x":0.433,"y":0.25},{"x":0.449,"y":0.6},{"x":0.464,"y":0.04},{"x":0.481,"y":0.7},{"x":0.497,"y":0.3},{"x":0.515,"y":0.6},{"x":0.533,"y":0.03},{"x":0.551,"y":0.75},{"x":0.571,"y":0.2},{"x":0.591,"y":0.55},{"x":0.611,"y":0.05},{"x":0.633,"y":0.7},{"x":0.655,"y":0.3},{"x":0.678,"y":0.65},{"x":0.701,"y":0.08},{"x":0.726,"y":0.6},{"x":0.751,"y":0.25},{"x":0.778,"y":0.75},{"x":0.805,"y":0.02},{"x":0.833,"y":0.7},{"x":0.862,"y":0.3},{"x":0.892,"y":0.8},{"x":0.924,"y":0.15},{"x":0.956,"y":0.65},{"x":0.989,"y":0.35},{"x":1.02,"y":0.9},{"x":1.06,"y":0.2},{"x":1.1,"y":0.7},{"x":1.14,"y":0.3},{"x":1.18,"y":1},{"x":1.22,"y":0.4},{"x":1.26,"y":0.85},{"x":1.3,"y":0.04},{"x":1.35,"y":0.9},{"x":1.4,"y":0.35},{"x":1.45,"y":1.1},{"x":1.5,"y":0.2},{"x":1.55,"y":0.8},{"x":1.6,"y":0.45},{"x":1.66,"y":1.2},{"x":1.72,"y":0.15},{"x":1.78,"y":0.9},{"x":1.84,"y":0.4},{"x":1.9,"y":1.3},{"x":1.97,"y":0.3},{"x":2.04,"y":1},{"x":2.11,"y":0.25},{"x":2.18,"y":1.5},{"x":2.26,"y":0.012},{"x":2.34,"y":1.2},{"x":2.42,"y":0.3},{"x":2.5,"y":1.6},{"x":2.59,"y":0.5},{"x":2.68,"y":1.4},{"x":2.77,"y":0.06},{"x":2.87,"y":1.8},{"x":2.97,"y":0.4},{"x":3.07,"y":1.5},{"x":3.18,"y":0.6},{"x":3.29,"y":2.5},{"x":3.41,"y":0.5},{"x":3.53,"y":3},{"x":3.65,"y":0.25},{"x":3.78,"y":3.5},{"x":3.91,"y":0.9},{"x":4.05,"y":3.8},{"x":4.19,"y":1.5},{"x":4.3,"y":4.2},{"x":4.43,"y":0.8},{"x":4.57,"y":3.8},{"x":4.71,"y":0.6},{"x":4.86,"y":3.2},{"x":5.01,"y":0.5},{"x":5.16,"y":2.8},{"x":5.32,"y":0.45},{"x":5.49,"y":2.4},{"x":5.66,"y":0.35},{"x":5.83,"y":2},{"x":6.01,"y":0.3},{"x":6.2,"y":1.8},{"x":6.39,"y":0.22},{"x":6.59,"y":1.5},{"x":6.8,"y":0.18},{"x":7.01,"y":1.3},{"x":7.22,"y":0.15},{"x":7.45,"y":1.2},{"x":7.68,"y":0.12},{"x":7.92,"y":1},{"x":8.16,"y":0.1},{"x":8.42,"y":0.95},{"x":8.68,"y":0.08},{"x":8.95,"y":0.85},{"x":9.22,"y":0.07},{"x":9.51,"y":0.75},{"x":9.8,"y":0.06},{"x":10.1,"y":0.7},{"x":10.4,"y":0.05},{"x":10.8,"y":0.6},{"x":11.1,"y":0.045},{"x":11.4,"y":0.55},{"x":11.8,"y":0.035},{"x":12.2,"y":0.45},{"x":12.5,"y":0.03},{"x":12.9,"y":0.4},{"x":13.3,"y":0.028},{"x":13.7,"y":0.35},{"x":14.2,"y":0.001},{"x":14.6,"y":0.3},{"x":15.1,"y":0.02},{"x":15.5,"y":0.25},{"x":16,"y":0.015},{"x":16.5,"y":0.2},{"x":17,"y":0.012},{"x":17.6,"y":0.16},{"x":18.1,"y":0.01},{"x":18.7,"y":0.13},{"x":19.2,"y":0.0004},{"x":19.8,"y":0.1},{"x":20.4,"y":0.007},{"x":21.1,"y":0.08},{"x":21.7,"y":0.005},{"x":22.4,"y":0.065},{"x":23.1,"y":0.004},{"x":23.8,"y":0.05},{"x":24.6,"y":0.003},{"x":25.3,"y":0.04},{"x":26.1,"y":0.0025},{"x":26.9,"y":0.03},{"x":27.8,"y":0.0018},{"x":28.6,"y":0.022},{"x":29.5,"y":0.0012},{"x":30.4,"y":0.015},{"x":31.4,"y":0.0008},{"x":32.3,"y":0.01},{"x":33.3,"y":0.0005},{"x":34.4,"y":0.006},{"x":35.4,"y":0.0003},{"x":36.5,"y":0.002},{"x":37.7,"y":0.0001},{"x":38.8,"y":0.0005},{"x":40,"y":0.000012},{"x":41.3,"y":0.0002},{"x":42.5,"y":0.00012},{"x":43.8,"y":0.00018},{"x":45.2,"y":0.00015},{"x":46.6,"y":0.00017},{"x":48,"y":0.00016}],
"ewFAS":[{"x":0.1,"y":0.12},{"x":0.103,"y":0.06},{"x":0.107,"y":0.13},{"x":0.11,"y":0.05},{"x":0.114,"y":0.1},{"x":0.118,"y":0.04},{"x":0.122,"y":0.09},{"x":0.126,"y":0.05},{"x":0.131,"y":0.1},{"x":0.135,"y":0.04},{"x":0.14,"y":0.08},{"x":0.145,"y":0.03},{"x":0.15,"y":0.09},{"x":0.155,"y":0.06},{"x":0.16,"y":0.14},{"x":0.166,"y":0.07},{"x":0.172,"y":0.35},{"x":0.178,"y":0.1},{"x":0.184,"y":0.15},{"x":0.19,"y":0.05},{"x":0.197,"y":0.18},{"x":0.204,"y":0.09},{"x":0.211,"y":0.2},{"x":0.218,"y":0.1},{"x":0.226,"y":0.22},{"x":0.234,"y":0.12},{"x":0.242,"y":0.3},{"x":0.25,"y":0.15},{"x":0.259,"y":0.25},{"x":0.268,"y":0.1},{"x":0.277,"y":0.3},{"x":0.287,"y":0.12},{"x":0.297,"y":0.35},{"x":0.307,"y":0.2},{"x":0.318,"y":0.8},{"x":0.329,"y":0.15},{"x":0.341,"y":0.7},{"x":0.353,"y":0.25},{"x":0.365,"y":0.6},{"x":0.378,"y":0.1},{"x":0.391,"y":0.8},{"x":0.405,"y":0.3},{"x":0.419,"y":0.55},{"x":0.433,"y":0.08},{"x":0.449,"y":0.6},{"x":0.464,"y":0.2},{"x":0.481,"y":0.45},{"x":0.497,"y":0.06},{"x":0.515,"y":0.5},{"x":0.533,"y":0.15},{"x":0.551,"y":0.4},{"x":0.571,"y":0.07},{"x":0.591,"y":0.6},{"x":0.611,"y":0.2},{"x":0.633,"y":0.5},{"x":0.655,"y":0.12},{"x":0.678,"y":0.8},{"x":0.701,"y":0.3},{"x":0.726,"y":0.7},{"x":0.751,"y":0.15},{"x":0.778,"y":0.9},{"x":0.805,"y":0.35},{"x":0.833,"y":0.75},{"x":0.862,"y":0.2},{"x":0.892,"y":0.7},{"x":0.924,"y":0.02},{"x":0.956,"y":0.9},{"x":0.989,"y":0.3},{"x":1.02,"y":1.2},{"x":1.06,"y":0.4},{"x":1.1,"y":0.8},{"x":1.14,"y":0.15},{"x":1.18,"y":1.1},{"x":1.22,"y":0.45},{"x":1.26,"y":0.9},{"x":1.3,"y":0.12},{"x":1.35,"y":0.8},{"x":1.4,"y":0.35},{"x":1.45,"y":0.6},{"x":1.5,"y":0.25},{"x":1.55,"y":1},{"x":1.6,"y":0.4},{"x":1.66,"y":0.8},{"x":1.72,"y":0.2},{"x":1.78,"y":1.3},{"x":1.84,"y":0.5},{"x":1.9,"y":1.1},{"x":1.97,"y":0.1},{"x":2.04,"y":1.5},{"x":2.11,"y":0.06},{"x":2.18,"y":1.4},{"x":2.26,"y":0.3},{"x":2.34,"y":1.8},{"x":2.42,"y":0.5},{"x":2.5,"y":2.2},{"x":2.59,"y":0.2},{"x":2.68,"y":2.5},{"x":2.77,"y":0.6},{"x":2.87,"y":1.6},{"x":2.97,"y":0.15},{"x":3.07,"y":2.8},{"x":3.18,"y":0.7},{"x":3.29,"y":3.2},{"x":3.41,"y":0.4},{"x":3.53,"y":3},{"x":3.65,"y":1},{"x":3.7,"y":3.6},{"x":3.78,"y":0.9},{"x":3.91,"y":3.2},{"x":4.05,"y":1},{"x":4.19,"y":3.4},{"x":4.3,"y":0.9},{"x":4.43,"y":3.5},{"x":4.57,"y":0.8},{"x":4.71,"y":3.3},{"x":4.86,"y":0.7},{"x":5.01,"y":2.9},{"x":5.16,"y":0.6},{"x":5.32,"y":2.6},{"x":5.49,"y":0.5},{"x":5.66,"y":2.3},{"x":5.83,"y":0.4},{"x":6.01,"y":2},{"x":6.2,"y":0.35},{"x":6.39,"y":1.8},{"x":6.59,"y":0.3},{"x":6.8,"y":1.6},{"x":7.01,"y":0.009},{"x":7.22,"y":1.4},{"x":7.45,"y":0.22},{"x":7.68,"y":1.2},{"x":7.92,"y":0.18},{"x":8.16,"y":1},{"x":8.42,"y":0.14},{"x":8.68,"y":0.9},{"x":8.95,"y":0.12},{"x":9.22,"y":0.8},{"x":9.51,"y":0.1},{"x":9.8,"y":0.7},{"x":10.1,"y":0.005},{"x":10.4,"y":0.6},{"x":10.8,"y":0.07},{"x":11.1,"y":0.5},{"x":11.4,"y":0.06},{"x":11.8,"y":0.4},{"x":12.2,"y":0.05},{"x":12.5,"y":0.38},{"x":12.9,"y":0.04},{"x":13.3,"y":0.32},{"x":13.7,"y":0.035},{"x":14.2,"y":0.28},{"x":14.6,"y":0.03},{"x":15.1,"y":0.24},{"x":15.5,"y":0.022},{"x":16,"y":0.2},{"x":16.5,"y":0.018},{"x":17,"y":0.15},{"x":17.6,"y":0.014},{"x":18.1,"y":0.12},{"x":18.7,"y":0.01},{"x":19.2,"y":0.1},{"x":19.8,"y":0.0009},{"x":20.4,"y":0.08},{"x":21.1,"y":0.007},{"x":21.7,"y":0.065},{"x":22.4,"y":0.005},{"x":23.1,"y":0.05},{"x":23.8,"y":0.00015},{"x":24.6,"y":0.035},{"x":25.3,"y":0.003},{"x":26.1,"y":0.028},{"x":26.9,"y":0.002},{"x":27.8,"y":0.02},{"x":28.6,"y":0.0015},{"x":29.5,"y":0.014},{"x":30.4,"y":0.001},{"x":31.4,"y":0.008},{"x":32.3,"y":0.0007},{"x":33.3,"y":0.005},{"x":34.4,"y":0.0004},{"x":35.4,"y":0.003},{"x":36.5,"y":0.0002},{"x":37.7,"y":0.0015},{"x":38.8,"y":0.00003},{"x":40,"y":0.0006},{"x":41.3,"y":0.00015},{"x":42.5,"y":0.0003},{"x":43.8,"y":0.00022},{"x":45.2,"y":0.00028},{"x":46.6,"y":0.00024},{"x":48,"y":0.00026}]
},
"vconcat":[
 {"title":{"text":"IBR013","anchor":"start","frame":"bounds","dx":328,"dy":-50.5,"offset":0,"font":"DejaVu Serif","fontSize":23.2,"fontWeight":"bold","color":"#000"},
  "hconcat":[
  {"width":37.5,"height":1,"view":{"stroke":null},"data":{"values":[{}]},"mark":{"type":"text","text":""}},
  {"hconcat":[
   {"vconcat":[
    {"width":711,"height":112,"title":{"text":"IBR013 –NS","fontSize":14,"offset":-1},
     "layer":[
      {"data":{"name":"nsAcc"},"mark":{"type":"line","strokeWidth":1.9},"encoding":{"x":{"field":"t","type":"quantitative","scale":{"domain":[0,300],"nice":false},"axis":null},"y":{"field":"v","type":"quantitative","scale":{"domain":[-2000,2000],"nice":false},"axis":null},"color":{"datum":"Original Acc.","scale":{"domain":["Original Acc.","Corrected Acc."],"range":["#1414ff","#000000"]},"legend":{"orient":"none","legendX":541.7,"legendY":13.5,"title":null,"symbolType":"M-5,0H5","symbolSize":116.64,"symbolStrokeWidth":1.5,"labelFontSize":15,"labelFontWeight":"normal","labelOffset":24.1,"rowPadding":5,"padding":0}}}},
      {"data":{"name":"nsAcc"},"mark":{"type":"line","strokeWidth":1.6},"encoding":{"x":{"field":"t","type":"quantitative","axis":{"orient":"bottom","values":[0,50,100,150,200,250,300],"labels":false,"title":null}},"y":{"field":"v","type":"quantitative","axis":{"values":[-2000,0,2000],"format":"d","title":"Acc. (cm/s²)","titleFontSize":12,"labelFontSize":13.5,"labelPadding":10,"minExtent":62,"maxExtent":62,"titlePadding":9}},"color":{"datum":"Corrected Acc."}}},
      {"data":{"values":[{"t":110.8,"v":-1273,"label":"−1273"}]},"mark":{"type":"point","shape":"circle","filled":true,"size":150,"color":"#77e68f","stroke":"#1a1a1a","strokeWidth":1,"opacity":1},"encoding":{"x":{"field":"t","type":"quantitative","axis":{"orient":"top","values":[0,50,100,150,200,250,300],"labels":false,"title":null}},"y":{"field":"v","type":"quantitative","axis":{"orient":"right","values":[-2000,0,2000],"labels":false,"title":null}}}},
      {"data":{"values":[{"t":110.8,"v":-1273,"label":"−1273"}]},"mark":{"type":"text","align":"left","baseline":"middle","dx":12,"dy":11,"fontSize":13.5,"fontWeight":"bold","color":"#000"},"encoding":{"x":{"field":"t","type":"quantitative","axis":null},"y":{"field":"v","type":"quantitative","axis":null},"text":{"field":"label"}}}
     ],
     "resolve":{"axis":{"x":"independent","y":"independent"}}},
    {"width":711,"height":112,
     "layer":[
      {"data":{"name":"nsVel"},"mark":{"type":"line","strokeWidth":1.1,"color":"#000"},"encoding":{"x":{"field":"t","type":"quantitative","scale":{"domain":[0,300],"nice":false},"axis":{"orient":"bottom","values":[0,50,100,150,200,250,300],"labels":false,"title":null}},"y":{"field":"v","type":"quantitative","scale":{"domain":[-100,100],"nice":false},"axis":{"values":[-100,0,100],"format":"d","title":"Vel. (cm/s)","titleFontSize":12,"labelFontSize":13.5,"labelPadding":10,"minExtent":44,"maxExtent":44,"titlePadding":9}}}},
      {"data":{"values":[{"t":112.2,"v":62,"label":"62"}]},"mark":{"type":"point","shape":"circle","filled":true,"size":150,"color":"#77e68f","stroke":"#1a1a1a","strokeWidth":1,"opacity":1},"encoding":{"x":{"field":"t","type":"quantitative","axis":{"orient":"top","values":[0,50,100,150,200,250,300],"labels":false,"title":null}},"y":{"field":"v","type":"quantitative","axis":{"orient":"right","values":[-100,0,100],"labels":false,"title":null}}}},
      {"data":{"values":[{"t":112.2,"v":62,"label":"62"}]},"mark":{"type":"text","align":"left","baseline":"middle","dx":1,"dy":-10,"fontSize":13.5,"fontWeight":"bold","color":"#000"},"encoding":{"x":{"field":"t","type":"quantitative","axis":null},"y":{"field":"v","type":"quantitative","axis":null},"text":{"field":"label"}}}
     ],
     "resolve":{"axis":{"x":"independent","y":"independent"}}},
    {"width":711,"height":113,
     "layer":[
      {"data":{"name":"nsDisp"},"mark":{"type":"line","strokeWidth":1.2,"color":"#000"},"encoding":{"x":{"field":"t","type":"quantitative","scale":{"domain":[0,300],"nice":false},"axis":{"orient":"bottom","values":[0,50,100,150,200,250,300],"title":"Time (s)","labelFontSize":13,"labelPadding":11,"titleFontSize":12.5,"titlePadding":4}},"y":{"field":"v","type":"quantitative","scale":{"domain":[-100,50],"nice":false},"axis":{"values":[-100,-50,0,50],"format":"d","title":"Disp. (cm)","titleFontSize":12,"labelFontSize":13.5,"labelPadding":10,"minExtent":44,"maxExtent":44,"titlePadding":9}}}},
      {"data":{"values":[{"t":114.4,"v":-63,"label":"−63"}]},"mark":{"type":"point","shape":"circle","filled":true,"size":150,"color":"#77e68f","stroke":"#1a1a1a","strokeWidth":1,"opacity":1},"encoding":{"x":{"field":"t","type":"quantitative","axis":{"orient":"top","values":[0,50,100,150,200,250,300],"labels":false,"title":null}},"y":{"field":"v","type":"quantitative","axis":{"orient":"right","values":[-100,-50,0,50],"labels":false,"title":null}}}},
      {"data":{"values":[{"t":114.4,"v":-63,"label":"−63"}]},"mark":{"type":"text","align":"left","baseline":"middle","dx":1,"dy":15,"fontSize":13.5,"fontWeight":"bold","color":"#000"},"encoding":{"x":{"field":"t","type":"quantitative","axis":null},"y":{"field":"v","type":"quantitative","axis":null},"text":{"field":"label"}}}
     ],
     "resolve":{"axis":{"x":"independent","y":"independent"}}}
   ],"spacing":31,"bounds":"flush","resolve":{"scale":{"color":"independent"},"legend":{"color":"independent"}}},
   {"vconcat":[
    {"width":711,"height":112,"title":{"text":"IBR013 –EW","fontSize":14,"offset":-1},
     "layer":[
      {"data":{"name":"ewAcc"},"mark":{"type":"line","strokeWidth":1.9},"encoding":{"x":{"field":"t","type":"quantitative","scale":{"domain":[0,300],"nice":false},"axis":null},"y":{"field":"v","type":"quantitative","scale":{"domain":[-1000,2000],"nice":false},"axis":null},"color":{"datum":"Original Acc.","scale":{"domain":["Original Acc.","Corrected Acc."],"range":["#1414ff","#000000"]},"legend":{"orient":"none","legendX":543.2,"legendY":13.5,"title":null,"symbolType":"M-5,0H5","symbolSize":116.64,"symbolStrokeWidth":1.5,"labelFontSize":15,"labelFontWeight":"normal","labelOffset":23.4,"rowPadding":5,"padding":0}}}},
      {"data":{"name":"ewAcc"},"mark":{"type":"line","strokeWidth":1.6},"encoding":{"x":{"field":"t","type":"quantitative","axis":{"orient":"bottom","values":[0,50,100,150,200,250,300],"labels":false,"title":null}},"y":{"field":"v","type":"quantitative","axis":{"values":[-1000,0,1000,2000],"format":"d","title":"Acc. (cm/s²)","titleFontSize":12,"labelFontSize":13.5,"labelPadding":10,"minExtent":52,"maxExtent":52,"titlePadding":9}},"color":{"datum":"Corrected Acc."}}},
      {"data":{"values":[{"t":108.1,"v":1036,"label":"1036"}]},"mark":{"type":"point","shape":"circle","filled":true,"size":150,"color":"#77e68f","stroke":"#1a1a1a","strokeWidth":1,"opacity":1},"encoding":{"x":{"field":"t","type":"quantitative","axis":{"orient":"top","values":[0,50,100,150,200,250,300],"labels":false,"title":null}},"y":{"field":"v","type":"quantitative","axis":{"orient":"right","values":[-1000,0,1000,2000],"labels":false,"title":null}}}},
      {"data":{"values":[{"t":108.1,"v":1036,"label":"1036"}]},"mark":{"type":"text","align":"left","baseline":"middle","dx":12,"dy":-12,"fontSize":13.5,"fontWeight":"bold","color":"#000"},"encoding":{"x":{"field":"t","type":"quantitative","axis":null},"y":{"field":"v","type":"quantitative","axis":null},"text":{"field":"label"}}}
     ],
     "resolve":{"axis":{"x":"independent","y":"independent"}}},
    {"width":711,"height":112,
     "layer":[
      {"data":{"name":"ewVel"},"mark":{"type":"line","strokeWidth":1.1,"color":"#000"},"encoding":{"x":{"field":"t","type":"quantitative","scale":{"domain":[0,300],"nice":false},"axis":{"orient":"bottom","values":[0,50,100,150,200,250,300],"labels":false,"title":null}},"y":{"field":"v","type":"quantitative","scale":{"domain":[-100,50],"nice":false},"axis":{"values":[-100,-50,0,50],"format":"d","title":"Vel. (cm/s)","titleFontSize":12,"labelFontSize":13.5,"labelPadding":10,"minExtent":41,"maxExtent":41,"titlePadding":9}}}},
      {"data":{"values":[{"t":110.8,"v":-65,"label":"−65"}]},"mark":{"type":"point","shape":"circle","filled":true,"size":150,"color":"#77e68f","stroke":"#1a1a1a","strokeWidth":1,"opacity":1},"encoding":{"x":{"field":"t","type":"quantitative","axis":{"orient":"top","values":[0,50,100,150,200,250,300],"labels":false,"title":null}},"y":{"field":"v","type":"quantitative","axis":{"orient":"right","values":[-100,-50,0,50],"labels":false,"title":null}}}},
      {"data":{"values":[{"t":110.8,"v":-65,"label":"−65"}]},"mark":{"type":"text","align":"left","baseline":"middle","dx":-1,"dy":17,"fontSize":13.5,"fontWeight":"bold","color":"#000"},"encoding":{"x":{"field":"t","type":"quantitative","axis":null},"y":{"field":"v","type":"quantitative","axis":null},"text":{"field":"label"}}}
     ],
     "resolve":{"axis":{"x":"independent","y":"independent"}}},
    {"width":711,"height":113,
     "layer":[
      {"data":{"name":"ewDisp"},"mark":{"type":"line","strokeWidth":1.2,"color":"#000"},"encoding":{"x":{"field":"t","type":"quantitative","scale":{"domain":[0,300],"nice":false},"axis":{"orient":"bottom","values":[0,50,100,150,200,250,300],"title":"Time (s)","labelFontSize":13,"labelPadding":11,"titleFontSize":12.5,"titlePadding":4}},"y":{"field":"v","type":"quantitative","scale":{"domain":[-50,50],"nice":false},"axis":{"values":[-50,0,50],"format":"d","title":"Disp. (cm)","titleFontSize":12,"labelFontSize":13.5,"labelPadding":10,"minExtent":41,"maxExtent":41,"titlePadding":9}}}},
      {"data":{"values":[{"t":106.8,"v":36,"label":"36"}]},"mark":{"type":"point","shape":"circle","filled":true,"size":150,"color":"#77e68f","stroke":"#1a1a1a","strokeWidth":1,"opacity":1},"encoding":{"x":{"field":"t","type":"quantitative","axis":{"orient":"top","values":[0,50,100,150,200,250,300],"labels":false,"title":null}},"y":{"field":"v","type":"quantitative","axis":{"orient":"right","values":[-50,0,50],"labels":false,"title":null}}}},
      {"data":{"values":[{"t":106.8,"v":36,"label":"36"}]},"mark":{"type":"text","align":"left","baseline":"middle","dx":0,"dy":-12,"fontSize":13.5,"fontWeight":"bold","color":"#000"},"encoding":{"x":{"field":"t","type":"quantitative","axis":null},"y":{"field":"v","type":"quantitative","axis":null},"text":{"field":"label"}}}
     ],
     "resolve":{"axis":{"x":"independent","y":"independent"}}}
   ],"spacing":31,"bounds":"flush","resolve":{"scale":{"color":"independent"},"legend":{"color":"independent"}}}
  ],"spacing":35.5,"resolve":{"scale":{"color":"independent"},"legend":{"color":"independent"}}}
 ],"spacing":-300,"resolve":{"scale":{"color":"independent"},"legend":{"color":"independent"}}},
 {"hconcat":[
  {"hconcat":[
   {"width":347,"height":315,"title":{"text":"IBR013 –NS","fontSize":12,"offset":7},
    "layer":[
     {"data":{"name":"nsSA"},"mark":{"type":"line","strokeWidth":1.6,"color":"#333"},"encoding":{"x":{"field":"x","type":"quantitative","scale":{"type":"log","domain":[0.01,10],"nice":false},"axis":{"orient":"bottom","values":[0.01,0.02,0.03,0.04,0.05,0.06,0.07,0.08,0.09,0.1,0.2,0.3,0.4,0.5,0.6,0.7,0.8,0.9,1,2,3,4,5,6,7,8,9,10],"labelExpr":"indexof([0.01,0.1,1,10], datum.value) >= 0 ? format(datum.value, '~g') : ''","title":"Period (s)","labelFontSize":9.5,"labelPadding":6,"tickSize":-4,"titleFontSize":12.5,"titlePadding":9}},"y":{"field":"y","type":"quantitative","scale":{"domain":[0,1.7],"nice":false},"axis":{"values":[0,0.2,0.4,0.6,0.8,1,1.2,1.4,1.6],"format":".1~f","title":"Pseudo Spectral Acceleration (g)","titleFontSize":11,"labelFontSize":10,"labelPadding":10,"minExtent":24,"maxExtent":24,"titlePadding":9.6}}}},
     {"data":{"values":[{"x":0.2,"y":1.42,"label":"1.4 g at 0.2 s"}]},"mark":{"type":"point","shape":"circle","filled":true,"size":90,"color":"#77e68f","stroke":"#1a1a1a","strokeWidth":1,"opacity":1},"encoding":{"x":{"field":"x","type":"quantitative","axis":{"orient":"top","values":[0.01,0.02,0.03,0.04,0.05,0.06,0.07,0.08,0.09,0.1,0.2,0.3,0.4,0.5,0.6,0.7,0.8,0.9,1,2,3,4,5,6,7,8,9,10],"labels":false,"title":null,"tickSize":-4}},"y":{"field":"y","type":"quantitative","axis":{"orient":"right","values":[0,0.2,0.4,0.6,0.8,1,1.2,1.4,1.6],"labels":false,"title":null}}}},
     {"data":{"values":[{"x":0.2,"y":1.42,"label":"1.4 g at 0.2 s"}]},"mark":{"type":"text","align":"left","baseline":"middle","dx":5,"dy":-12,"fontSize":11,"fontWeight":"bold","color":"#000"},"encoding":{"x":{"field":"x","type":"quantitative","axis":null},"y":{"field":"y","type":"quantitative","axis":null},"text":{"field":"label"}}}
    ],
    "resolve":{"axis":{"x":"independent","y":"independent"}}},
   {"width":331,"height":315,"title":{"text":"IBR013 –NS","fontSize":12,"offset":7},
    "layer":[
     {"data":{"name":"nsFAS"},"mark":{"type":"line","strokeWidth":2,"color":"#474747","clip":true},"encoding":{"x":{"field":"x","type":"quantitative","scale":{"type":"log","domain":[0.1,100],"nice":false},"axis":{"orient":"bottom","values":[0.1,0.2,0.3,0.4,0.5,0.6,0.7,0.8,0.9,1,2,3,4,5,6,7,8,9,10,20,30,40,50,60,70,80,90,100],"labelExpr":"indexof([0.1,1,10,100], datum.value) >= 0 ? format(datum.value, '~g') : ''","title":"Frequecy (Hz)","labelFontSize":9.5,"labelPadding":6,"tickSize":-4,"titleFontSize":12.5,"titlePadding":9}},"y":{"field":"y","type":"quantitative","scale":{"type":"log","domain":[0.000011,15],"nice":false},"axis":{"values":[0.0001,0.001,0.01,0.1,1,10],"labelExpr":"datum.value > 5 ? '10¹' : datum.value > 0.5 ? '10⁰' : datum.value > 0.05 ? '10⁻¹' : datum.value > 0.005 ? '10⁻²' : datum.value > 0.0005 ? '10⁻³' : '10⁻⁴'","title":"Fourier Amplitude of Acceleration","titleFontSize":11.5,"labelFontSize":9.5,"labelPadding":11,"minExtent":32,"maxExtent":32,"titlePadding":2.3}}}},
     {"data":{"values":[{"x":4.3,"y":4.8,"label":"4.3 Hz"}]},"mark":{"type":"point","shape":"circle","filled":true,"size":90,"color":"#77e68f","stroke":"#1a1a1a","strokeWidth":1,"opacity":1},"encoding":{"x":{"field":"x","type":"quantitative","axis":{"orient":"top","values":[0.1,0.2,0.3,0.4,0.5,0.6,0.7,0.8,0.9,1,2,3,4,5,6,7,8,9,10,20,30,40,50,60,70,80,90,100],"labels":false,"title":null,"tickSize":-4}},"y":{"field":"y","type":"quantitative","axis":{"orient":"right","values":[0.0001,0.001,0.01,0.1,1,10],"labels":false,"title":null}}}},
     {"data":{"values":[{"x":4.3,"y":4.8,"label":"4.3 Hz"}]},"mark":{"type":"text","align":"left","baseline":"middle","dx":19,"dy":-4,"fontSize":11,"fontWeight":"bold","color":"#000"},"encoding":{"x":{"field":"x","type":"quantitative","axis":null},"y":{"field":"y","type":"quantitative","axis":null},"text":{"field":"label"}}}
    ],
    "resolve":{"axis":{"x":"independent","y":"independent"}}}
  ],"spacing":19.5},
  {"hconcat":[
   {"width":348,"height":315,"title":{"text":"IBR013 –EW","fontSize":12,"offset":7},
    "layer":[
     {"data":{"name":"ewSA"},"mark":{"type":"line","strokeWidth":1.6,"color":"#333"},"encoding":{"x":{"field":"x","type":"quantitative","scale":{"type":"log","domain":[0.01,10],"nice":false},"axis":{"orient":"bottom","values":[0.01,0.02,0.03,0.04,0.05,0.06,0.07,0.08,0.09,0.1,0.2,0.3,0.4,0.5,0.6,0.7,0.8,0.9,1,2,3,4,5,6,7,8,9,10],"labelExpr":"indexof([0.01,0.1,1,10], datum.value) >= 0 ? format(datum.value, '~g') : ''","title":"Period (s)","labelFontSize":9.5,"labelPadding":6,"tickSize":-4,"titleFontSize":12.5,"titlePadding":9}},"y":{"field":"y","type":"quantitative","scale":{"domain":[0,1.77],"nice":false},"axis":{"values":[0,0.2,0.4,0.6,0.8,1,1.2,1.4,1.6],"format":".1~f","title":"Pseudo Spectral Acceleration (g)","titleFontSize":11,"labelFontSize":10,"labelPadding":10,"minExtent":24,"maxExtent":24,"titlePadding":10.6}}}},
     {"data":{"values":[{"x":0.2,"y":1.47,"label":"1.5 g at 0.2 s"}]},"mark":{"type":"point","shape":"circle","filled":true,"size":90,"color":"#77e68f","stroke":"#1a1a1a","strokeWidth":1,"opacity":1},"encoding":{"x":{"field":"x","type":"quantitative","axis":{"orient":"top","values":[0.01,0.02,0.03,0.04,0.05,0.06,0.07,0.08,0.09,0.1,0.2,0.3,0.4,0.5,0.6,0.7,0.8,0.9,1,2,3,4,5,6,7,8,9,10],"labels":false,"title":null,"tickSize":-4}},"y":{"field":"y","type":"quantitative","axis":{"orient":"right","values":[0,0.2,0.4,0.6,0.8,1,1.2,1.4,1.6],"labels":false,"title":null}}}},
     {"data":{"values":[{"x":0.2,"y":1.47,"label":"1.5 g at 0.2 s"}]},"mark":{"type":"text","align":"left","baseline":"middle","dx":5,"dy":-12,"fontSize":11,"fontWeight":"bold","color":"#000"},"encoding":{"x":{"field":"x","type":"quantitative","axis":null},"y":{"field":"y","type":"quantitative","axis":null},"text":{"field":"label"}}}
    ],
    "resolve":{"axis":{"x":"independent","y":"independent"}}},
   {"width":329,"height":314,"title":{"text":"IBR013 –EW","fontSize":12,"offset":7},
    "layer":[
     {"data":{"name":"ewFAS"},"mark":{"type":"line","strokeWidth":2,"color":"#474747","clip":true},"encoding":{"x":{"field":"x","type":"quantitative","scale":{"type":"log","domain":[0.1,100],"nice":false},"axis":{"orient":"bottom","values":[0.1,0.2,0.3,0.4,0.5,0.6,0.7,0.8,0.9,1,2,3,4,5,6,7,8,9,10,20,30,40,50,60,70,80,90,100],"labelExpr":"indexof([0.1,1,10,100], datum.value) >= 0 ? format(datum.value, '~g') : ''","title":"Frequecy (Hz)","labelFontSize":9.5,"labelPadding":6,"tickSize":-4,"titleFontSize":12.5,"titlePadding":9}},"y":{"field":"y","type":"quantitative","scale":{"type":"log","domain":[0.000027,17],"nice":false},"axis":{"values":[0.0001,0.001,0.01,0.1,1,10],"labelExpr":"datum.value > 5 ? '10¹' : datum.value > 0.5 ? '10⁰' : datum.value > 0.05 ? '10⁻¹' : datum.value > 0.005 ? '10⁻²' : datum.value > 0.0005 ? '10⁻³' : '10⁻⁴'","title":"Fourier Amplitude of Acceleration","titleFontSize":11.5,"labelFontSize":9.5,"labelPadding":11,"minExtent":32,"maxExtent":32,"titlePadding":7}}}},
     {"data":{"values":[{"x":3.7,"y":5.7,"label":"3.7 Hz"}]},"mark":{"type":"point","shape":"circle","filled":true,"size":90,"color":"#77e68f","stroke":"#1a1a1a","strokeWidth":1,"opacity":1},"encoding":{"x":{"field":"x","type":"quantitative","axis":{"orient":"top","values":[0.1,0.2,0.3,0.4,0.5,0.6,0.7,0.8,0.9,1,2,3,4,5,6,7,8,9,10,20,30,40,50,60,70,80,90,100],"labels":false,"title":null,"tickSize":-4}},"y":{"field":"y","type":"quantitative","axis":{"orient":"right","values":[0.0001,0.001,0.01,0.1,1,10],"labels":false,"title":null}}}},
     {"data":{"values":[{"x":3.7,"y":5.7,"label":"3.7 Hz"}]},"mark":{"type":"text","align":"left","baseline":"middle","dx":19,"dy":-4,"fontSize":11,"fontWeight":"bold","color":"#000"},"encoding":{"x":{"field":"x","type":"quantitative","axis":null},"y":{"field":"y","type":"quantitative","axis":null},"text":{"field":"label"}}}
    ],
    "resolve":{"axis":{"x":"independent","y":"independent"}}}
  ],"spacing":11.9}
 ],"spacing":30.6}
],
"spacing":45.5,
"resolve":{"scale":{"color":"independent"},"legend":{"color":"independent"}},
"config":{
 "font":"DejaVu Sans",
 "view":{"stroke":"#000","strokeWidth":1.2},
 "axis":{"grid":false,"domain":false,"ticks":true,"tickColor":"#000","tickWidth":1,"tickSize":-5,"labelColor":"#000","labelFont":"DejaVu Sans","labelFontWeight":"bold","titleColor":"#000","titleFont":"DejaVu Sans","titleFontWeight":"bold","labelFlush":false,"labelOverlap":false,"labelBound":false},
 "title":{"font":"DejaVu Sans","fontWeight":"bold","color":"#000","anchor":"middle"},
 "legend":{"labelFont":"DejaVu Sans","labelColor":"#000"}
}
}
